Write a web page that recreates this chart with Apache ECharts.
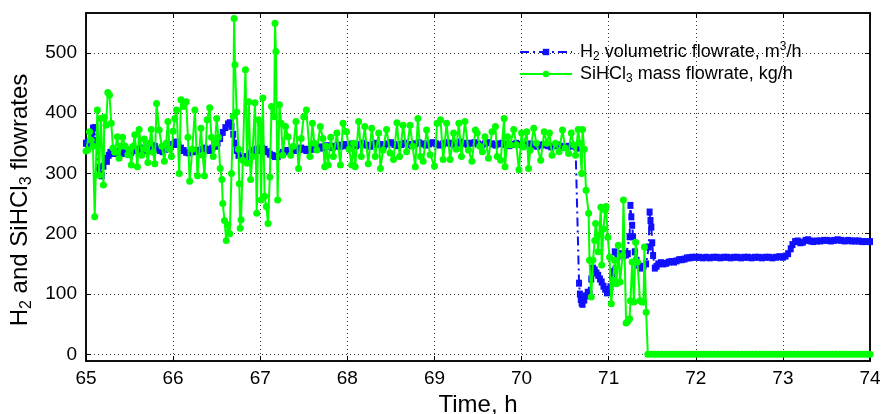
<!DOCTYPE html>
<html>
<head>
<meta charset="utf-8">
<script src="https://cdn.jsdelivr.net/npm/echarts@6/dist/echarts.min.js"></script>
<style>
html,body{margin:0;padding:0;background:#fff;}
#chart{width:882px;height:414px;}
</style>
</head>
<body>
<div id="chart"></div>
<script>
// Time (h) and value pairs
const h2Flow = [
[65.0,350],[65.02,352],[65.04,348],[65.06,362],[65.08,375],[65.1,376],[65.12,355],[65.14,310],[65.16,298],[65.18,296],
[65.2,312],[65.22,325],[65.24,320],[65.26,330],[65.28,335],[65.31,333],[65.34,336],[65.37,334],[65.4,335],[65.43,333],
[65.46,337],[65.49,338],[65.52,335],[65.55,338],[65.58,340],[65.61,336],[65.64,342],[65.67,340],[65.7,338],[65.73,343],
[65.76,346],[65.79,345],[65.82,340],[65.85,338],[65.88,336],[65.91,340],[65.94,344],[65.97,346],[66.0,348],[66.03,352],
[66.06,348],[66.09,342],[66.12,338],[66.15,335],[66.18,334],[66.21,336],[66.24,338],[66.27,336],[66.3,338],[66.33,340],
[66.36,342],[66.39,340],[66.42,338],[66.45,342],[66.48,345],[66.51,350],[66.54,358],[66.57,368],[66.6,376],[66.63,382],
[66.65,384],[66.67,378],[66.69,365],[66.71,350],[66.73,338],[66.75,330],[66.78,326],[66.81,325],[66.84,328],[66.87,332],
[66.9,335],[66.93,338],[66.96,340],[66.99,338],[67.02,342],[67.05,340],[67.08,336],[67.11,332],[67.14,330],[67.17,328],
[67.2,328],[67.23,332],[67.26,335],[67.29,338],[67.32,336],[67.35,338],[67.38,340],[67.41,338],[67.44,340],[67.47,342],
[67.5,340],[67.53,338],[67.56,340],[67.59,342],[67.62,340],[67.65,342],[67.68,344],[67.71,342],[67.74,344],[67.77,346],
[67.8,345],[67.83,343],[67.86,345],[67.89,347],[67.92,345],[67.95,346],[67.98,348],[68.02,347],[68.06,349],[68.1,346],
[68.14,348],[68.18,350],[68.22,347],[68.26,345],[68.3,348],[68.34,350],[68.38,348],[68.42,346],[68.46,349],[68.5,351],
[68.54,348],[68.58,346],[68.62,348],[68.66,350],[68.7,348],[68.74,346],[68.78,349],[68.82,351],[68.86,349],[68.9,347],
[68.94,349],[68.98,351],[69.02,349],[69.06,347],[69.1,349],[69.14,351],[69.18,350],[69.22,348],[69.26,350],[69.3,352],
[69.34,350],[69.38,348],[69.42,350],[69.46,351],[69.5,349],[69.54,347],[69.58,349],[69.62,351],[69.66,349],[69.7,347],
[69.74,349],[69.78,350],[69.82,348],[69.86,346],[69.9,348],[69.94,350],[69.98,348],[70.02,346],[70.06,348],[70.1,349],
[70.14,347],[70.18,345],[70.22,347],[70.26,348],[70.3,346],[70.34,344],[70.38,346],[70.42,347],[70.46,345],[70.5,343],
[70.54,345],[70.58,346],[70.62,344],[70.64,342],[70.66,118],[70.67,100],[70.68,91],[70.69,85],[70.7,83],[70.72,90],
[70.74,97],[70.76,103],[70.78,100],[70.8,125],[70.82,143],[70.84,140],[70.86,135],[70.88,131],[70.9,125],[70.92,120],
[70.94,113],[70.96,108],[70.98,102],[71.0,106],[71.02,112],[71.04,128],[71.05,137],[71.07,170],[71.1,161],[71.13,167],
[71.17,164],[71.2,165],[71.22,167],[71.24,195],[71.25,247],[71.26,228],[71.27,214],[71.28,195],[71.3,170],[71.32,156],
[71.34,148],[71.36,143],[71.38,145],[71.4,146],[71.43,150],[71.46,178],[71.47,236],[71.48,222],[71.49,211],[71.5,185],
[71.51,164],[71.53,143],[71.55,146],[71.57,150],[71.6,152],[71.63,150],[71.66,151],[71.69,153],[71.72,154],[71.75,153],
[71.78,155],[71.81,157],[71.84,157],[71.87,158],[71.9,160],[71.93,160],[71.96,161],[72.0,161],[72.04,161],[72.08,160],
[72.12,161],[72.16,160],[72.2,161],[72.24,161],[72.28,160],[72.32,161],[72.36,161],[72.4,160],[72.44,161],[72.48,161],
[72.52,160],[72.56,161],[72.6,161],[72.64,160],[72.68,161],[72.72,161],[72.76,160],[72.8,161],[72.84,161],[72.88,160],
[72.92,161],[72.96,162],[73.0,161],[73.03,163],[73.06,167],[73.09,175],[73.11,182],[73.14,187],[73.17,188],[73.2,185],
[73.23,186],[73.26,189],[73.29,190],[73.32,188],[73.35,187],[73.39,188],[73.43,188],[73.47,189],[73.51,189],[73.55,188],
[73.59,189],[73.63,190],[73.67,189],[73.71,188],[73.75,189],[73.79,188],[73.83,188],[73.87,188],[73.91,187],[73.95,187],
[74.0,187]
];

const sihcl3Flow = [
[65.0,337],[65.02,339],[65.04,369],[65.06,355],[65.08,345],[65.1,228],[65.13,405],[65.15,297],[65.17,391],[65.2,281],
[65.21,393],[65.23,380],[65.25,434],[65.27,430],[65.29,383],[65.31,342],[65.33,335],[65.36,361],[65.38,325],[65.4,345],
[65.42,360],[65.45,345],[65.48,331],[65.5,340],[65.52,314],[65.54,345],[65.56,364],[65.59,311],[65.61,373],[65.64,330],
[65.67,357],[65.69,340],[65.71,318],[65.73,350],[65.75,373],[65.77,335],[65.79,316],[65.81,416],[65.84,372],[65.87,345],
[65.9,320],[65.92,350],[65.94,386],[65.96,340],[65.98,328],[66.0,370],[66.02,391],[66.04,405],[66.07,300],[66.09,422],
[66.12,411],[66.15,419],[66.17,360],[66.19,287],[66.22,340],[66.25,405],[66.28,296],[66.32,375],[66.34,330],[66.36,296],
[66.39,389],[66.42,409],[66.44,360],[66.46,328],[66.48,350],[66.5,391],[66.52,360],[66.54,308],[66.56,290],[66.57,250],
[66.59,222],[66.61,189],[66.63,215],[66.65,200],[66.67,300],[66.69,395],[66.7,557],[66.71,480],[66.73,402],[66.75,340],
[66.76,283],[66.77,209],[66.78,223],[66.8,322],[66.83,472],[66.85,317],[66.87,419],[66.89,290],[66.91,328],[66.94,417],
[66.96,234],[66.98,389],[67.0,382],[67.01,256],[67.03,425],[67.05,262],[67.07,245],[67.09,217],[67.11,294],[67.13,411],
[67.16,394],[67.17,549],[67.18,502],[67.2,256],[67.22,414],[67.24,383],[67.26,330],[67.29,378],[67.32,361],[67.35,330],
[67.38,345],[67.41,386],[67.44,308],[67.47,358],[67.5,394],[67.53,405],[67.57,328],[67.6,383],[67.62,350],[67.65,339],
[67.69,378],[67.72,358],[67.74,311],[67.76,345],[67.78,314],[67.81,360],[67.84,328],[67.88,367],[67.92,314],[67.95,383],
[67.99,369],[68.02,340],[68.05,314],[68.07,350],[68.09,311],[68.13,386],[68.16,328],[68.2,378],[68.24,316],[68.28,375],
[68.32,328],[68.36,367],[68.38,308],[68.41,339],[68.45,373],[68.49,334],[68.53,323],[68.57,384],[68.6,328],[68.64,380],
[68.68,336],[68.72,380],[68.75,345],[68.78,311],[68.81,391],[68.84,328],[68.87,320],[68.91,372],[68.95,331],[69.0,312],
[69.03,383],[69.07,389],[69.1,323],[69.14,383],[69.18,323],[69.22,367],[69.25,340],[69.28,383],[69.31,328],[69.35,386],
[69.39,339],[69.43,320],[69.47,372],[69.49,367],[69.52,345],[69.55,336],[69.58,361],[69.62,325],[69.66,369],[69.7,378],
[69.72,328],[69.76,322],[69.8,391],[69.81,311],[69.84,361],[69.87,347],[69.91,373],[69.94,347],[69.97,306],[70.0,367],
[70.02,344],[70.06,369],[70.08,308],[70.1,339],[70.14,375],[70.17,350],[70.22,322],[70.26,369],[70.29,350],[70.32,367],
[70.35,330],[70.39,350],[70.43,336],[70.47,372],[70.5,342],[70.54,333],[70.57,367],[70.6,347],[70.62,330],[70.65,373],
[70.67,350],[70.69,300],[70.7,373],[70.72,340],[70.74,272],[70.77,234],[70.78,156],[70.8,95],[70.82,156],[70.84,189],
[70.85,217],[70.87,197],[70.88,170],[70.91,244],[70.92,148],[70.94,208],[70.96,239],[70.97,245],[70.99,194],[71.01,161],
[71.03,84],[71.05,123],[71.07,156],[71.09,117],[71.11,181],[71.13,120],[71.16,164],[71.17,256],[71.2,52],[71.22,55],
[71.24,59],[71.25,89],[71.27,153],[71.29,87],[71.31,186],[71.33,153],[71.36,89],[71.38,87],[71.4,87],[71.41,178],
[71.43,70],[71.45,0],[71.49,0],[71.53,0],[71.57,0],[71.61,0],[71.65,0],[71.69,0],[71.73,0],[71.77,0],
[71.81,0],[71.85,0],[71.89,0],[71.93,0],[71.97,0],[72.01,0],[72.05,0],[72.09,0],[72.13,0],[72.17,0],
[72.21,0],[72.25,0],[72.29,0],[72.33,0],[72.37,0],[72.41,0],[72.45,0],[72.49,0],[72.53,0],[72.57,0],
[72.61,0],[72.65,0],[72.69,0],[72.73,0],[72.77,0],[72.81,0],[72.85,0],[72.89,0],[72.93,0],[72.97,0],
[73.01,0],[73.05,0],[73.09,0],[73.13,0],[73.17,0],[73.21,0],[73.25,0],[73.29,0],[73.33,0],[73.37,0],
[73.41,0],[73.45,0],[73.49,0],[73.53,0],[73.57,0],[73.61,0],[73.65,0],[73.69,0],[73.73,0],[73.77,0],
[73.81,0],[73.85,0],[73.89,0],[73.93,0],[73.97,0],[74.0,0]
];

const yTickValues = [0, 100, 200, 300, 400, 500];
const seriesNames = ['h2', 'sihcl3'];
const legendLabels = {
  h2: 'H{sub|2} volumetric flowrate, m{sup|3}/h',
  sihcl3: 'SiHCl{sub|3} mass flowrate, kg/h'
};
const xAxisTitle = 'Time, h';
const yAxisTitle = 'H{sub|2} and SiHCl{sub|3} flowrates';

const FONT = '"Liberation Sans", Arial, sans-serif';
const chart = echarts.init(document.getElementById('chart'), null, {renderer: 'canvas'});

const gridLine = {show: true, lineStyle: {color: '#333', type: [1, 3], width: 1}};

chart.setOption({
  animation: false,
  backgroundColor: '#fff',
  grid: {left: 86, right: 12, top: 13, bottom: 53, show: true, borderColor: '#000', borderWidth: 1.5,
    backgroundColor: 'transparent', containLabel: false, outerBoundsMode: 'none'},
  legend: {
    orient: 'vertical',
    left: 514,
    top: 36,
    itemWidth: 52,
    itemHeight: 8,
    itemGap: 2,
    data: seriesNames,
    formatter: function (n) { return legendLabels[n]; },
    textStyle: {
      fontFamily: FONT, fontSize: 18, color: '#000', padding: [0, 0, 0, 3],
      rich: {
        sub: {fontFamily: FONT, fontSize: 12, padding: [10, 0, 0, 0], color: '#000'},
        sup: {fontFamily: FONT, fontSize: 12, padding: [0, 0, 10, 0], color: '#000'}
      }
    }
  },
  xAxis: [{
    type: 'value', min: 65, max: 74, interval: 1,
    name: xAxisTitle, nameLocation: 'middle', nameGap: 27,
    nameTextStyle: {fontFamily: FONT, fontSize: 24, color: '#000'},
    axisLine: {show: true, onZero: false, lineStyle: {color: '#000', width: 1.5}},
    axisTick: {show: true, inside: true, length: 5, lineStyle: {color: '#000'}},
    axisLabel: {fontFamily: FONT, fontSize: 19, color: '#000', margin: 8},
    splitLine: gridLine
  }, {
    type: 'value', min: 65, max: 74, interval: 1, position: 'top',
    axisLine: {show: true, onZero: false, lineStyle: {color: '#000', width: 1.5}},
    axisTick: {show: true, inside: true, length: 5, lineStyle: {color: '#000'}},
    axisLabel: {show: false}, splitLine: {show: false}
  }],
  yAxis: [{
    type: 'value', min: -11, max: 566,
    name: yAxisTitle, nameLocation: 'middle', nameGap: 44,
    nameTextStyle: {
      fontFamily: FONT, fontSize: 24, color: '#000', padding: [0, 26, 0, 0],
      rich: {sub: {fontFamily: FONT, fontSize: 16, padding: [12, 0, 0, 0], color: '#000'}}
    },
    axisLine: {show: true, onZero: false, lineStyle: {color: '#000', width: 1.5}},
    axisTick: {show: true, inside: true, length: 5, customValues: yTickValues, lineStyle: {color: '#000'}},
    axisLabel: {fontFamily: FONT, fontSize: 19, color: '#000', margin: 9, customValues: yTickValues},
    splitLine: gridLine
  }, {
    type: 'value', min: -11, max: 566, position: 'right',
    axisLine: {show: true, onZero: false, lineStyle: {color: '#000', width: 1.5}},
    axisTick: {show: true, inside: true, length: 5, customValues: yTickValues, lineStyle: {color: '#000'}},
    axisLabel: {show: false, customValues: yTickValues}, splitLine: {show: false}
  }],
  series: [{
    name: 'h2', type: 'line', data: h2Flow,
    xAxisIndex: 0, yAxisIndex: 0,
    symbol: 'rect', symbolSize: [6, 7], showAllSymbol: true,
    lineStyle: {color: '#1010ff', width: 2, type: [9, 4, 2, 4]},
    itemStyle: {color: '#1010ff'},
    z: 2
  }, {
    name: 'sihcl3', type: 'line', data: sihcl3Flow,
    xAxisIndex: 0, yAxisIndex: 0,
    symbol: 'circle', symbolSize: 7, showAllSymbol: true,
    lineStyle: {color: '#00ff00', width: 2},
    itemStyle: {color: '#00ff00'},
    z: 3
  }]
});
</script>
</body>
</html>
